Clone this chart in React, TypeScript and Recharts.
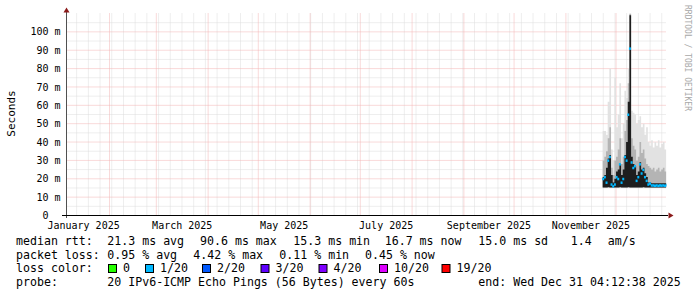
import React from 'react';
import { ComposedChart, Area, Line, XAxis, YAxis, CartesianGrid } from 'recharts';

// day-of-year 2025 (Jan 1 = 0)
const days = [326, 327, 328, 329, 330, 331, 332, 333, 334, 335, 336, 337, 338, 339, 340, 341, 342, 343, 344, 345, 346, 347, 348, 349, 350, 351, 352, 353, 354, 355, 356, 357, 358, 359, 360, 361, 362, 363, 364];
// median rtt (ms)
const median = [20, 21, 18, 30, 32, 17, 16, 17, 21, 20, 28, 18, 20, 32, 30, 55, 91, 29, 26, 27, 19, 21, 28, 23, 25, 21, 19, 17, 17.5, 16.5, 16.5, 16.3, 16.5, 16.3, 16.5, 16.4, 16.5, 16.3, 16.7];
// smoke bounds (ms)
const smokeLow = [15.3, 15.2, 15.3, 15.4, 15.3, 15.2, 15.3, 15.3, 15.2, 15.3, 15.4, 15.3, 15.2, 15.3, 15.3, 15.4, 15.3, 15.3, 15.2, 15.3, 15.3, 15.2, 15.3, 15.3, 15.4, 15.3, 15.2, 15.3, 15.3, 15.2, 15.3, 15.3, 15.2, 15.3, 15.3, 15.2, 15.3, 15.3, 15.3];
const smokeDark = [21, 22, 26, 31, 33, 22, 18, 20, 24, 25, 28, 22, 25, 33, 40, 62, 109, 32, 28, 27, 22, 24, 29, 25, 26, 23, 21, 18, 18, 17.5, 17.5, 17.5, 17.5, 17.5, 17.5, 17.5, 17.5, 17.5, 17.5];
const smokeMid = [30, 32, 35, 42, 48, 26, 22, 30, 32, 36, 42, 28, 32, 46, 52, 72, 110, 42, 38, 36, 30, 32, 40, 34, 36, 31, 28, 27, 26, 25, 26, 24, 25, 26, 24, 25, 26, 24, 25];
const smokeLight = [46, 46, 44, 62, 80, 36, 30, 75, 48, 55, 72, 42, 50, 68, 64, 80, 110, 57, 56, 55, 50, 52, 54, 48, 50, 44, 48, 40, 38, 41, 37, 40, 38, 41, 37, 39, 40, 36, 38];

const yTicks = [0, 10, 20, 30, 40, 50, 60, 70, 80, 90, 100];
const yMajor = [10, 20, 30, 40, 50, 60, 70, 80, 90, 100];
const yMinor = [5, 15, 25, 35, 45, 55, 65, 75, 85, 95, 105];
const monthStarts = [31, 59, 90, 120, 151, 181, 212, 243, 273, 304, 334];
const weekLines = [11.35, 18.35, 25.35, 32.35, 39.35, 46.35, 53.35, 60.35, 67.35, 74.35, 81.35, 88.35, 95.35, 102.35, 109.35, 116.35, 123.35, 130.35, 137.35, 144.35, 151.35, 158.35, 165.35, 172.35, 179.35, 186.35, 193.35, 200.35, 207.35, 214.35, 221.35, 228.35, 235.35, 242.35, 249.35, 256.35, 263.35, 270.35, 277.35, 284.35, 291.35, 298.35, 305.35, 312.35, 319.35, 326.35, 333.35, 340.35, 347.35, 354.35, 361.35];
const labelDays = [15.5, 74.5, 135.5, 196.5, 258, 319];
const labelTexts = ['January 2025', 'March 2025', 'May 2025', 'July 2025', 'September 2025', 'November 2025'];

const rows = days.map((d, i) => ({
  day: d,
  median: median[i],
  low: smokeLow[i],
  dark: smokeDark[i],
  mid: smokeMid[i],
  light: smokeLight[i],
}));

const lossColors = [
  { label: '0', color: '#26ff00', x: 108.5 },
  { label: '1/20', color: '#00b8ff', x: 145.5 },
  { label: '2/20', color: '#0059ff', x: 202.5 },
  { label: '3/20', color: '#5e00ff', x: 261 },
  { label: '4/20', color: '#7e00ff', x: 319 },
  { label: '10/20', color: '#dd00ff', x: 379.5 },
  { label: '19/20', color: '#ff0000', x: 442 },
];

const MONO = "'DejaVu Sans Mono', monospace";
const LFS = 11.6;

export default function App() {
  return (
    <div style={{ position: 'absolute', left: 0, top: 0, width: 697, height: 297, background: '#fff' }}>
      <ComposedChart width={697} height={297} data={rows} margin={{ top: 13.5, right: 30.5, bottom: 0, left: 0 }}>
        <CartesianGrid horizontalValues={yMinor} verticalValues={weekLines} stroke="#dcdcdc" strokeDasharray="1 1" />
        <CartesianGrid horizontalValues={yMajor} verticalValues={monthStarts} stroke="#f3b4b4" strokeDasharray="1 1" />
        <XAxis
          type="number"
          dataKey="day"
          domain={[5.28, 364.175]}
          allowDataOverflow
          ticks={labelDays}
          interval={0}
          tickFormatter={(v: number) => labelTexts[labelDays.indexOf(v)] ?? ''}
          tickLine={false}
          tickSize={6}
          tickMargin={0}
          height={81.5}
          axisLine={{ stroke: '#000' }}
          tick={{ fontSize: 10, fill: '#000', fontFamily: MONO }}
        />
        <YAxis
          type="number"
          domain={[0, 110]}
          allowDataOverflow
          ticks={yTicks}
          interval={0}
          width={66.5}
          tickLine={false}
          tickSize={6}
          tickMargin={0}
          axisLine={{ stroke: '#505050' }}
          tickFormatter={(v: number) => (v === 0 ? '0\u00a0\u00a0' : `${v} m`)}
          tick={{ fontSize: 10, fill: '#000', fontFamily: MONO }}
        />
        <Area type="stepAfter" dataKey={(d: any) => [d.low, d.light]} fill="#e2e2e2" fillOpacity={1} stroke="none" isAnimationActive={false} />
        <Area type="stepAfter" dataKey={(d: any) => [d.low, d.mid]} fill="#b4b4b4" fillOpacity={1} stroke="none" isAnimationActive={false} />
        <Area type="stepAfter" dataKey={(d: any) => [d.low, d.dark]} fill="#1e1e1e" fillOpacity={1} stroke="none" isAnimationActive={false} />
        <Line
          type="linear"
          dataKey="median"
          stroke="none"
          isAnimationActive={false}
          dot={(p: any) => (
            <rect key={`m${p.index}`} x={p.cx - 0.5} y={p.cy - 1} width={2} height={2.5} fill="#00b8ff" />
          )}
          activeDot={false}
        />
      </ComposedChart>
      <svg width={697} height={297} style={{ position: 'absolute', left: 0, top: 0, pointerEvents: 'none' }}>
        <line x1={66.5} y1={218} x2={66.5} y2={12} stroke="#505050" />
        <polygon points="63.5,12.5 69.5,12.5 66.5,7.5" fill="#8b1a1a" />
        <line x1={62} y1={215.5} x2={668} y2={215.5} stroke="#000" />
        <polygon points="668.5,212.5 668.5,218.5 673.5,215.5" fill="#8b1a1a" />
        <text x={0} y={0} transform="translate(15,113.5) rotate(-90)" textAnchor="middle" fontFamily={MONO} fontSize={11} fill="#000">
          Seconds
        </text>
        <text x={0} y={0} transform="translate(684.5,5) rotate(90)" textAnchor="start" fontFamily={MONO} fontSize={8} fill="#a8a8a8">
          RRDTOOL / TOBI OETIKER
        </text>
        <g fontFamily={MONO} fontSize={LFS} fill="#000">
          <text x={16} y={244.8}>median rtt:</text>
          <text x={107.3} y={244.8}>21.3 ms avg</text>
          <text x={200} y={244.8}>90.6 ms max</text>
          <text x={293.3} y={244.8}>15.3 ms min</text>
          <text x={384.7} y={244.8}>16.7 ms now</text>
          <text x={478.3} y={244.8}>15.0 ms sd</text>
          <text x={570.7} y={244.8}>1.4</text>
          <text x={607.7} y={244.8}>am/s</text>

          <text x={16} y={258.6}>packet loss:</text>
          <text x={107.3} y={258.6}>0.95 % avg</text>
          <text x={193.3} y={258.6}>4.42 % max</text>
          <text x={279.3} y={258.6}>0.11 % min</text>
          <text x={365} y={258.6}>0.45 % now</text>

          <text x={16} y={272.4}>loss color:</text>
          {lossColors.map((c) => (
            <g key={c.label}>
              <rect x={c.x} y={264.5} width={8} height={8} fill={c.color} stroke="#000" strokeWidth={1} />
              <text x={c.x + 14.5} y={272.4}>{c.label}</text>
            </g>
          ))}

          <text x={16} y={286.2}>probe:</text>
          <text x={107.3} y={286.2}>20 IPv6-ICMP Echo Pings (56 Bytes) every 60s</text>
          <text x={478.3} y={286.2}>end: Wed Dec 31 04:12:38 2025</text>
        </g>
      </svg>
    </div>
  );
}
